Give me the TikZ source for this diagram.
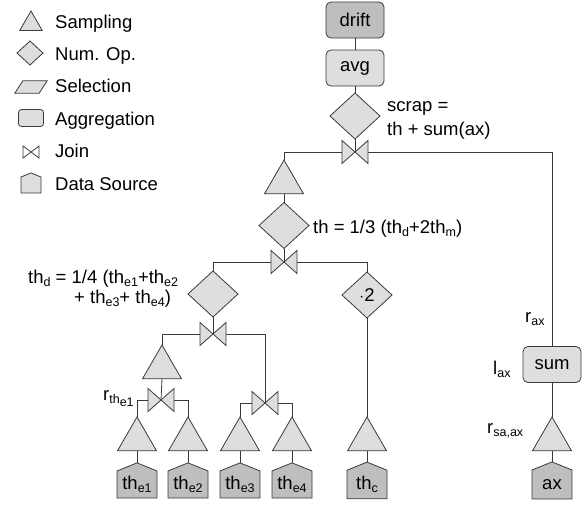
\documentclass[tikz,border=0pt]{standalone}
\usepackage{fontspec}
\setmainfont{Liberation Sans}
\usetikzlibrary{positioning,shapes.geometric,shapes.symbols}

\definecolor{lgray}{HTML}{DEDEDE}
\definecolor{dgray}{HTML}{BEBEBE}
\definecolor{edge}{HTML}{3A3A3A}
\newcommand{\lowsub}[1]{\raisebox{-3.2pt}{\fontsize{12.5}{14}\selectfont#1}}

\begin{document}
\begin{tikzpicture}[
      x=1pt,y=-1pt,
      every node/.style={font=\fontsize{18.5}{21}\selectfont},
      samp/.style={draw=edge,line width=0.8pt,regular polygon,regular polygon sides=3,fill=lgray,minimum size=45,inner sep=0pt,outer sep=0pt},
      numop/.style={draw=edge,line width=0.8pt,diamond,fill=lgray,minimum width=50,minimum height=46,inner sep=0pt,outer sep=0pt},
      agg/.style={draw=edge,line width=0.8pt,rounded corners=5pt,fill=lgray,minimum width=58,minimum height=36,inner sep=1pt,outer sep=0pt},
      bow/.style={minimum width=26,minimum height=23,inner sep=0pt,outer sep=0pt},
      src/.style={draw=edge,line width=0.8pt,signal,signal to=north,signal from=nowhere,signal pointer angle=136,fill=dgray,minimum width=40,minimum height=33,inner sep=0pt,outer sep=0pt},
      bowline/.style={draw=edge,line width=0.8pt,fill=lgray},
      wire/.style={draw=edge,line width=0.8pt},
      lab/.style={inner sep=0pt}
    ]
    \useasboundingbox (0,0) rectangle (584,506);
    % legend
    \node[samp,minimum size=26] (ksamp) at (31,24) {};
    \node[numop,minimum width=26,minimum height=24] (knum) at (30,53) {};
    \node[minimum width=24,minimum height=12,inner sep=0pt] (ksel) at (31,87) {};
    \node[agg,minimum width=25,minimum height=17,rounded corners=3pt] (kagg) at (31,118) {};
    \node[bow,minimum width=16,minimum height=12] (kbow) at (31,152) {};
    \node[src,fill=lgray,minimum width=20,minimum height=16] (ksrc) at (31,185) {};
    \node[lab,anchor=base west] (tsamp) at (55,28) {Sampling};
    \node[lab,anchor=base west] (tnum) at (55,60) {Num. Op.};
    \node[lab,anchor=base west] (tsel) at (55,92) {Selection};
    \node[lab,anchor=base west] (tagg) at (55,125) {Aggregation};
    \node[lab,anchor=base west] (tbow) at (55,157) {Join};
    \node[lab,anchor=base west] (tsrc) at (55,190) {Data Source};
    % top chain
    \node[agg,fill=dgray] (drift) at (355,20) {drift};
    \node[agg] (avg) at (355,68) {avg};
    \node[numop] (dscrap) at (355,116) {};
    \node[bow] (jtop) at (355,152) {};
    % th branch
    \node[samp] (tA) at (284,182.5) {};
    \node[numop] (dth) at (284,225.5) {};
    \node[bow] (jth) at (284,262) {};
    \node[numop] (dthd) at (213,294) {};
    \node[numop] (dtwo) at (367,295) {$\cdot$2};
    \node[bow] (jthd) at (213,334) {};
    \node[samp] (tB) at (162,367.5) {};
    \node[bow] (jA) at (161,400) {};
    \node[bow] (jB) at (265,403) {};
    % sampling over sources
    \node[samp] (t1) at (137,439.5) {};
    \node[samp] (t2) at (188,439.5) {};
    \node[samp] (t3) at (240,439.5) {};
    \node[samp] (t4) at (292,439.5) {};
    \node[samp] (tC) at (367,439.5) {};
    \node[samp] (tD) at (552,439.5) {};
    % data sources
    \node[src] (s1) at (137,484.5) {th\lowsub{e1}};
    \node[src] (s2) at (188,484.5) {th\lowsub{e2}};
    \node[src] (s3) at (240,484.5) {th\lowsub{e3}};
    \node[src] (s4) at (292,484.5) {th\lowsub{e4}};
    \node[src] (sC) at (367,484.5) {th\lowsub{c}};
    \node[src] (sD) at (552,484.5) {ax};
    % ax branch
    \node[agg] (sum) at (552,364.5) {sum};
    % connectors
    \draw[wire] (drift) -- (avg);
    \draw[wire] (avg) -- (dscrap);
    \draw[wire] (dscrap.south) -- (jtop.center);
    \draw[wire] (jtop.west) -| (tA.north);
    \draw[wire] (jtop.east) -| (sum.north);
    \draw[wire] (tA.south) -- (dth.north);
    \draw[wire] (dth.south) -- (jth.center);
    \draw[wire] (jth.west) -| (dthd.north);
    \draw[wire] (jth.east) -| (dtwo.north);
    \draw[wire] (dtwo.south) -- (tC.north);
    \draw[wire] (dthd.south) -- (jthd.center);
    \draw[wire] (jthd.west) -| (tB.north);
    \draw[wire] (jthd.east) -| (jB.center);
    \draw[wire] (tB.south) -- (jA.center);
    \draw[wire] (jA.west) -| (t1.north);
    \draw[wire] (jA.east) -| (t2.north);
    \draw[wire] (jB.west) -| (t3.north);
    \draw[wire] (jB.east) -| (t4.north);
    \draw[wire] (sum.south) -- (tD.north);
    \foreach \t/\s in {t1/s1,t2/s2,t3/s3,t4/s4,tC/sC,tD/sD}{\draw[wire] (\t.south) -- (\s.north);}
    % bowties over the joins
    \foreach \j in {jtop,jth,jthd,jA,jB}{\draw[bowline] (\j.north west) -- (\j.south west) -- (\j.north east) -- (\j.south east) -- cycle;}
    \draw[wire] (kbow.north west) -- (kbow.south west) -- (kbow.north east) -- (kbow.south east) -- cycle;
    \draw[bowline] ([xshift=-4pt]ksel.south west) -- ([xshift=4pt]ksel.north west) -- ([xshift=4pt]ksel.north east) -- ([xshift=-4pt]ksel.south east) -- cycle;
    % labels
    \node[lab,anchor=base west] (lscrap) at (387,111) {scrap =};
    \node[lab,anchor=base west] (lscrapb) at (387,135) {th + sum(ax)};
    \node[lab,anchor=base west] (lth) at (313,233) {th = 1/3 (th\lowsub{d}+2th\lowsub{m})};
    \node[lab,anchor=base west] (lthd) at (28,283) {th\lowsub{d} = 1/4 (th\lowsub{e1}+th\lowsub{e2}};
    \node[lab,anchor=base west] (lthdb) at (74,303) {+ th\lowsub{e3}+ th\lowsub{e4})};
    \node[lab,anchor=base west] (lre) at (103,400) {r\lowsub{th\lowsub{e1}}};
    \node[lab,anchor=base west] (lrax) at (525,322) {r\lowsub{ax}};
    \node[lab,anchor=base west] (llax) at (493,374) {l\lowsub{ax}};
    \node[lab,anchor=base west] (lrsa) at (487,433) {r\lowsub{sa,ax}};
  \end{tikzpicture}
\end{document}
